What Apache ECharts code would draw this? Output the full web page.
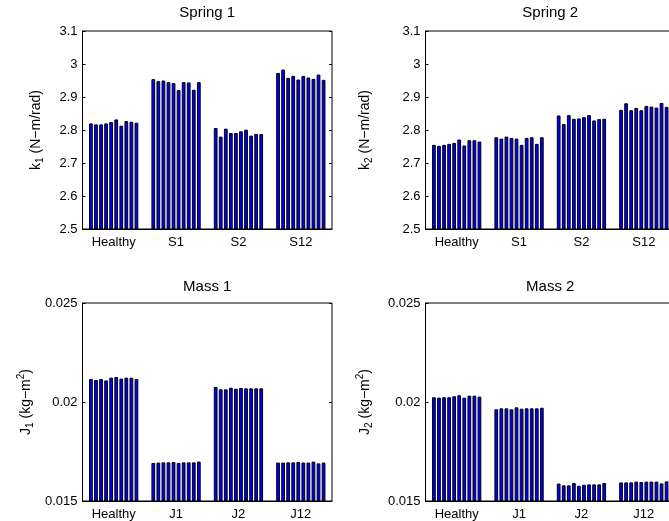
<!DOCTYPE html>
<html><head><meta charset="utf-8">
<script src="https://cdn.jsdelivr.net/npm/echarts@6/dist/echarts.min.js"></script>
<style>html,body{margin:0;padding:0;background:#fff;overflow:hidden}#c{width:690px;height:521px}</style>
</head><body><div id="c"></div>
<script>
// ---------- data ----------
const springCats = ['Healthy', 'S1', 'S2', 'S12'];
const massCats = ['Healthy', 'J1', 'J2', 'J12'];

// Spring 1 (k1), 10 trials per condition
const k1Healthy = [2.820, 2.817, 2.817, 2.820, 2.824, 2.832, 2.813, 2.827, 2.825, 2.822];
const k1S1      = [2.954, 2.948, 2.950, 2.945, 2.942, 2.921, 2.945, 2.944, 2.922, 2.945];
const k1S2      = [2.806, 2.780, 2.804, 2.791, 2.791, 2.796, 2.801, 2.783, 2.788, 2.788];
const k1S12     = [2.973, 2.983, 2.958, 2.964, 2.953, 2.964, 2.959, 2.955, 2.968, 2.952];

// Spring 2 (k2)
const k2Healthy = [2.755, 2.752, 2.755, 2.758, 2.761, 2.771, 2.753, 2.769, 2.769, 2.765];
const k2S1      = [2.778, 2.774, 2.780, 2.776, 2.774, 2.755, 2.776, 2.778, 2.758, 2.778];
const k2S2      = [2.844, 2.818, 2.845, 2.834, 2.835, 2.839, 2.845, 2.829, 2.833, 2.834];
const k2S12     = [2.861, 2.881, 2.860, 2.867, 2.860, 2.873, 2.871, 2.868, 2.882, 2.870];

// Mass 1 (J1)
const j1Healthy = [0.02116, 0.02111, 0.02116, 0.02109, 0.02123, 0.02126, 0.02118, 0.02123, 0.02123, 0.02116];
const j1J1      = [0.01692, 0.01694, 0.01695, 0.01695, 0.01697, 0.01692, 0.01695, 0.01695, 0.01695, 0.01699];
const j1J2      = [0.02076, 0.02064, 0.02064, 0.02072, 0.02067, 0.02071, 0.02069, 0.02069, 0.02069, 0.02069];
const j1J12     = [0.01694, 0.01694, 0.01695, 0.01695, 0.01697, 0.01694, 0.01694, 0.01699, 0.01690, 0.01694];

// Mass 2 (J2)
const j2Healthy = [0.02024, 0.02022, 0.02024, 0.02024, 0.02029, 0.02034, 0.02022, 0.02032, 0.02032, 0.02027];
const j2J1      = [0.01963, 0.01968, 0.01968, 0.01963, 0.01973, 0.01966, 0.01968, 0.01968, 0.01968, 0.01971];
const j2J2      = [0.01588, 0.01579, 0.01579, 0.01591, 0.01577, 0.01582, 0.01584, 0.01584, 0.01584, 0.01591];
const j2J12     = [0.01594, 0.01594, 0.01594, 0.01598, 0.01596, 0.01598, 0.01598, 0.01598, 0.01589, 0.01599];

const springTicks = {min: 2.5, max: 3.1, interval: 0.1};
const massTicks = {min: 0.015, max: 0.025, interval: 0.005};

// ---------- layout ----------
const FONT = 'Liberation Sans, Arial, Helvetica, sans-serif';
const panels = [
  {title: 'Spring 1', cats: springCats, groups: [k1Healthy, k1S1, k1S2, k1S12], ticks: springTicks,
   name: '{n|k}{s|1}{n| (N−m/rad)}', left: 82.5, top: 31, h: 198, gap: 37, titleY: 14},
  {title: 'Spring 2', cats: springCats, groups: [k2Healthy, k2S1, k2S2, k2S12], ticks: springTicks,
   name: '{n|k}{s|2}{n| (N−m/rad)}', left: 425.5, top: 31, h: 198, gap: 51, titleY: 14},
  {title: 'Mass 1', cats: massCats, groups: [j1Healthy, j1J1, j1J2, j1J12], ticks: massTicks,
   name: '{n|J}{s|1}{n| (kg−m}{p|2}{n|)}', left: 82.5, top: 303, h: 198, gap: 47, titleY: 288},
  {title: 'Mass 2', cats: massCats, groups: [j2Healthy, j2J1, j2J2, j2J12], ticks: massTicks,
   name: '{n|J}{s|2}{n| (kg−m}{p|2}{n|)}', left: 425.5, top: 303, h: 198, gap: 51, titleY: 288}
];
const W = 249.5;

const grid = [], xAxis = [], yAxis = [], series = [], title = [];
const rich = {
  n: {fontSize: 14, fontFamily: FONT, color: '#000'},
  s: {fontSize: 10, fontFamily: FONT, color: '#000', padding: [9, 0, 0, 0]},
  p: {fontSize: 10, fontFamily: FONT, color: '#000', padding: [0, 0, 9, 0]}
};
panels.forEach((p, gi) => {
  grid.push({left: p.left, top: p.top, width: W, height: p.h, show: true,
             borderColor: '#000', borderWidth: 1, backgroundColor: '#fff'});
  title.push({text: p.title, left: p.left + W / 2, top: p.titleY - 9, textAlign: 'center', padding: 0,
              textStyle: {fontSize: 15, fontWeight: 'normal', fontFamily: FONT, color: '#000'}});
  xAxis.push({type: 'category', gridIndex: gi, data: p.cats, position: 'bottom',
    axisLine: {lineStyle: {color: '#000', width: 1}},
    axisTick: {inside: true, length: 3, alignWithLabel: true, lineStyle: {color: '#000'}},
    axisLabel: {color: '#000', fontSize: 13, fontFamily: FONT, margin: 7}});
  xAxis.push({type: 'category', gridIndex: gi, data: p.cats, position: 'top',
    axisLine: {show: false},
    axisTick: {inside: true, length: 3, alignWithLabel: true, lineStyle: {color: '#000'}},
    axisLabel: {show: false}});
  yAxis.push({type: 'value', gridIndex: gi, min: p.ticks.min, max: p.ticks.max, interval: p.ticks.interval,
    position: 'left', splitLine: {show: false},
    axisLine: {show: true, lineStyle: {color: '#000'}},
    axisTick: {show: true, inside: true, length: 3, lineStyle: {color: '#000'}},
    axisLabel: {color: '#000', fontSize: 13, fontFamily: FONT, margin: 5},
    name: p.name, nameLocation: 'middle', nameRotate: 90, nameGap: p.gap,
    nameTextStyle: {rich: rich}});
  yAxis.push({type: 'value', gridIndex: gi, min: p.ticks.min, max: p.ticks.max, interval: p.ticks.interval,
    position: 'right', splitLine: {show: false},
    axisLine: {show: false},
    axisTick: {show: true, inside: true, length: 3, lineStyle: {color: '#000'}},
    axisLabel: {show: false}});
  for (let t = 0; t < 10; t++) {
    series.push({type: 'bar', xAxisIndex: gi * 2, yAxisIndex: gi * 2,
      data: p.groups.map(g => g[t]),
      barGap: '35%', barCategoryGap: '21%',
      itemStyle: {color: '#0000ff', borderColor: '#000', borderWidth: 1},
      emphasis: {disabled: true}, silent: true});
  }
});

const chart = echarts.init(document.getElementById('c'), null, {renderer: 'canvas'});
chart.setOption({animation: false, backgroundColor: '#fff', title, grid, xAxis, yAxis, series});
</script></body></html>
